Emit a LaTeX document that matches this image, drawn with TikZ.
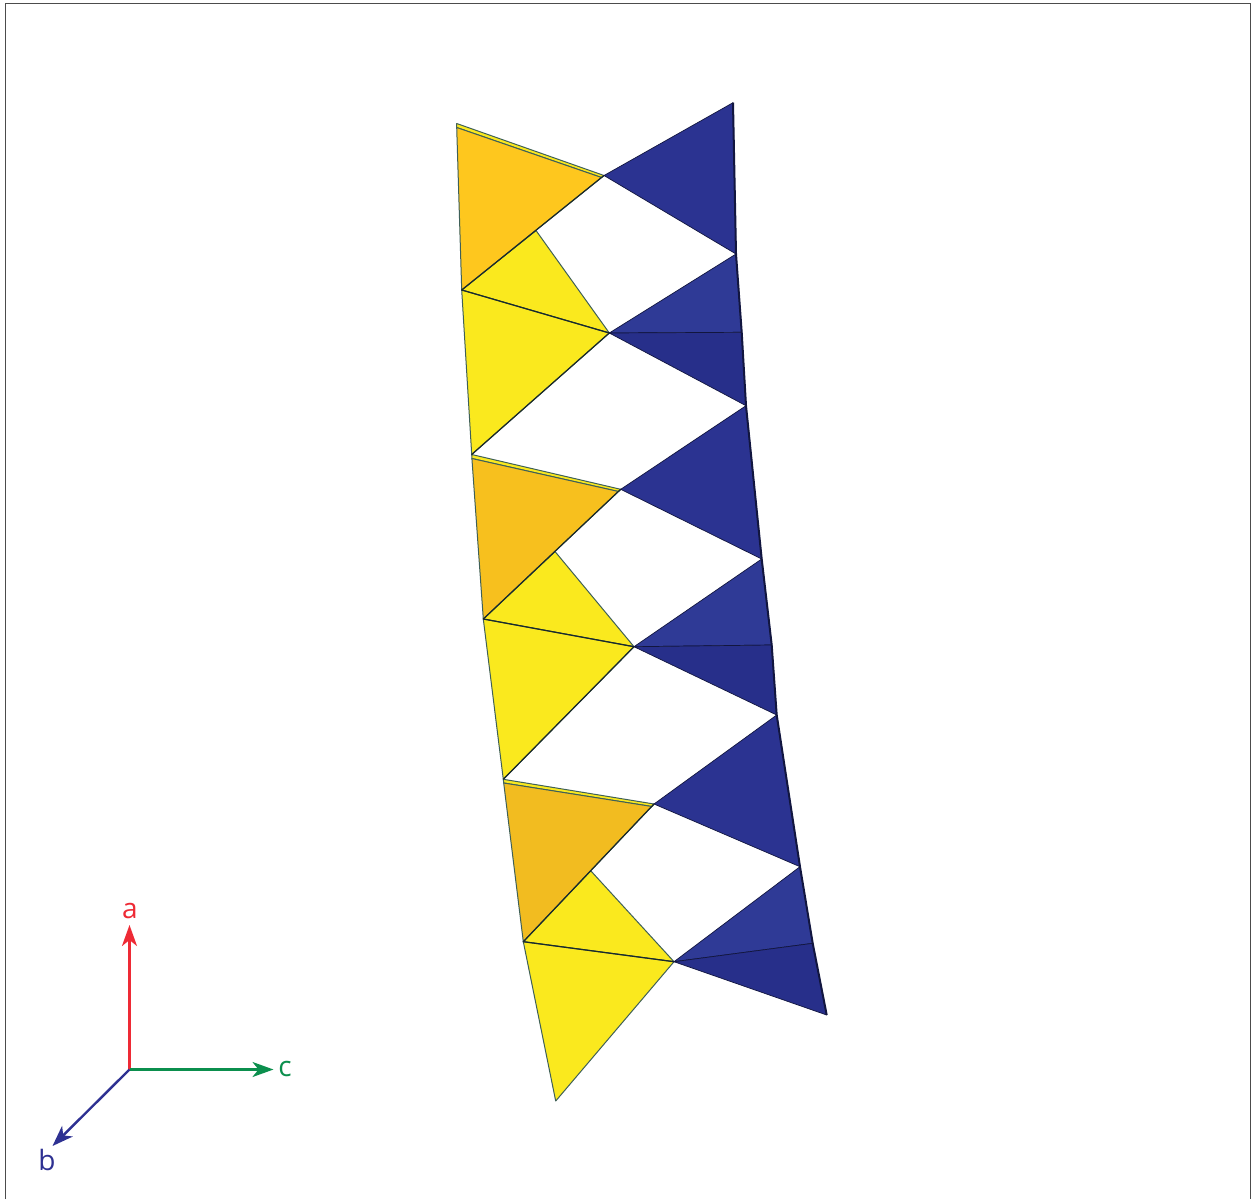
\documentclass[tikz,border=0pt]{standalone}
\usepackage{fontspec}
\setmainfont{Open Sans}
\usetikzlibrary{arrows.meta}
\definecolor{ornA}{HTML}{FEC71E}
\definecolor{ornB}{HTML}{F7C01E}
\definecolor{ornC}{HTML}{F2BC20}
\definecolor{yel}{HTML}{FAE91E}
\definecolor{bluA}{HTML}{2B3391}
\definecolor{bluB}{HTML}{2F3A96}
\definecolor{bluC}{HTML}{272F8A}
\definecolor{edgeY}{HTML}{3F6058}
\definecolor{edgeD}{HTML}{1B2A28}
\definecolor{edgeB}{HTML}{12163F}
\definecolor{axR}{HTML}{EE2A35}
\definecolor{axG}{HTML}{0B8F4D}
\definecolor{axB}{HTML}{2E3192}
\tikzset{
  x=1pt,y=-1pt,
  framed/.style={draw=black!70,line width=1.6pt},
  warm/.style={draw=edgeY,line width=1pt,line join=round},
  warmdark/.style={draw=edgeD,line width=1.2pt,line cap=round},
  cool/.style={draw=edgeB,line width=0.7pt,line join=round},
  spine/.style={draw=edgeB,line width=2pt,line join=round},
  axisline/.style={line width=2.4pt,-{Stealth[length=21pt,width=15pt,inset=6pt]}},
  axislabel/.style={inner sep=0pt,font=\fontsize{28}{28}\selectfont}
}
\begin{document}
\begin{tikzpicture}
\useasboundingbox (0,0) rectangle (1252,1199);
\fill[white] (0,0) rectangle (1252,1199);
\draw[framed] (5.5,1199) -- (5.5,3.5) -- (1250.5,3.5) -- (1250.5,1199);
% left chain
\coordinate (L0) at (456.7,123.5);
\coordinate (L0b) at (456.7,127.5);
\coordinate (L1) at (461.7,290);
\coordinate (L2) at (471.7,454.5);
\coordinate (L2b) at (471.9,458.5);
\coordinate (L3) at (483.3,619);
\coordinate (L4) at (503.3,779.3);
\coordinate (L4b) at (503.7,783);
\coordinate (L5) at (523.3,941.7);
\coordinate (L6) at (555.7,1101);
% middle vertices
\coordinate (M1) at (604,175.5);
\coordinate (M1b) at (601.5,177.5);
\coordinate (M2) at (609.3,333);
\coordinate (M3) at (620.7,489.3);
\coordinate (M3b) at (618.5,491.5);
\coordinate (M4) at (634,646.7);
\coordinate (M5) at (654,804);
\coordinate (M5b) at (652,806.5);
\coordinate (M6) at (674,961.7);
% small yellow apexes
\coordinate (A1) at (536,230.5);
\coordinate (A2) at (555,551.5);
\coordinate (A3) at (590.7,870.7);
% right chain
\coordinate (R0) at (733,102.7);
\coordinate (R1) at (736,254);
\coordinate (R2) at (741.7,332.3);
\coordinate (R3) at (746,405.7);
\coordinate (R4) at (761.7,559);
\coordinate (R5) at (771.7,645);
\coordinate (R6) at (776.7,715);
\coordinate (R7) at (800,866.7);
\coordinate (R8) at (812.7,943.3);
\coordinate (R9) at (826.7,1015);
% yellow faces
\filldraw[warm,fill=yel] (L1) -- (A1) -- (M2) -- cycle;
\filldraw[warm,fill=yel] (L1) -- (M2) -- (L2) -- cycle;
\filldraw[warm,fill=yel] (L3) -- (A2) -- (M4) -- cycle;
\filldraw[warm,fill=yel] (L3) -- (M4) -- (L4) -- cycle;
\filldraw[warm,fill=yel] (L5) -- (A3) -- (M6) -- cycle;
\filldraw[warm,fill=yel] (L5) -- (M6) -- (L6) -- cycle;
% orange faces, each with a sliver of yellow along its top
\filldraw[warm,fill=yel] (L0) -- (M1) -- (M1b) -- (L0b) -- cycle;
\filldraw[warm,fill=ornA] (L0b) -- (M1b) -- (M1) -- (L1) -- cycle;
\filldraw[warm,fill=yel] (L2) -- (M3) -- (M3b) -- (L2b) -- cycle;
\filldraw[warm,fill=ornB] (L2b) -- (M3b) -- (M3) -- (L3) -- cycle;
\filldraw[warm,fill=yel] (L4) -- (M5) -- (M5b) -- (L4b) -- cycle;
\filldraw[warm,fill=ornC] (L4b) -- (M5b) -- (M5) -- (L5) -- cycle;
% darker shared edges
\draw[warmdark] (L1) -- (M1);
\draw[warmdark] (L1) -- (M2);
\draw[warmdark] (L3) -- (M3);
\draw[warmdark] (L3) -- (M4);
\draw[warmdark] (L5) -- (M5);
\draw[warmdark] (L5) -- (M6);
\draw[warmdark] (L2) -- (M2);
\draw[warmdark] (L4) -- (M4);
% blue faces
\filldraw[cool,fill=bluA] (R0) -- (M1) -- (R1) -- cycle;
\filldraw[cool,fill=bluB] (R1) -- (M2) -- (R2) -- cycle;
\filldraw[cool,fill=bluC] (M2) -- (R2) -- (R3) -- cycle;
\filldraw[cool,fill=bluA] (R3) -- (M3) -- (R4) -- cycle;
\filldraw[cool,fill=bluB] (R4) -- (M4) -- (R5) -- cycle;
\filldraw[cool,fill=bluC] (M4) -- (R5) -- (R6) -- cycle;
\filldraw[cool,fill=bluA] (R6) -- (M5) -- (R7) -- cycle;
\filldraw[cool,fill=bluB] (R7) -- (M6) -- (R8) -- cycle;
\filldraw[cool,fill=bluC] (M6) -- (R8) -- (R9) -- cycle;
\draw[spine] (R0) -- (R1) -- (R2) -- (R3) -- (R4) -- (R5) -- (R6) -- (R7) -- (R8) -- (R9);
% axes
\coordinate (O) at (129.5,1069.5);
\coordinate (aTip) at (129.5,925);
\coordinate (cTip) at (273.5,1069.5);
\coordinate (bTip) at (52.5,1146);
\node[axislabel,text=axR] (aLab) at (130,911) {a};
\node[axislabel,text=axG] (cLab) at (285,1069) {c};
\node[axislabel,text=axB] (bLab) at (47,1160) {b};
\draw[axisline,draw=axR,fill=axR] (O) -- (aTip);
\draw[axisline,draw=axG,fill=axG] (O) -- (cTip);
\draw[axisline,draw=axB,fill=axB] (O) -- (bTip);
\end{tikzpicture}
\end{document}
